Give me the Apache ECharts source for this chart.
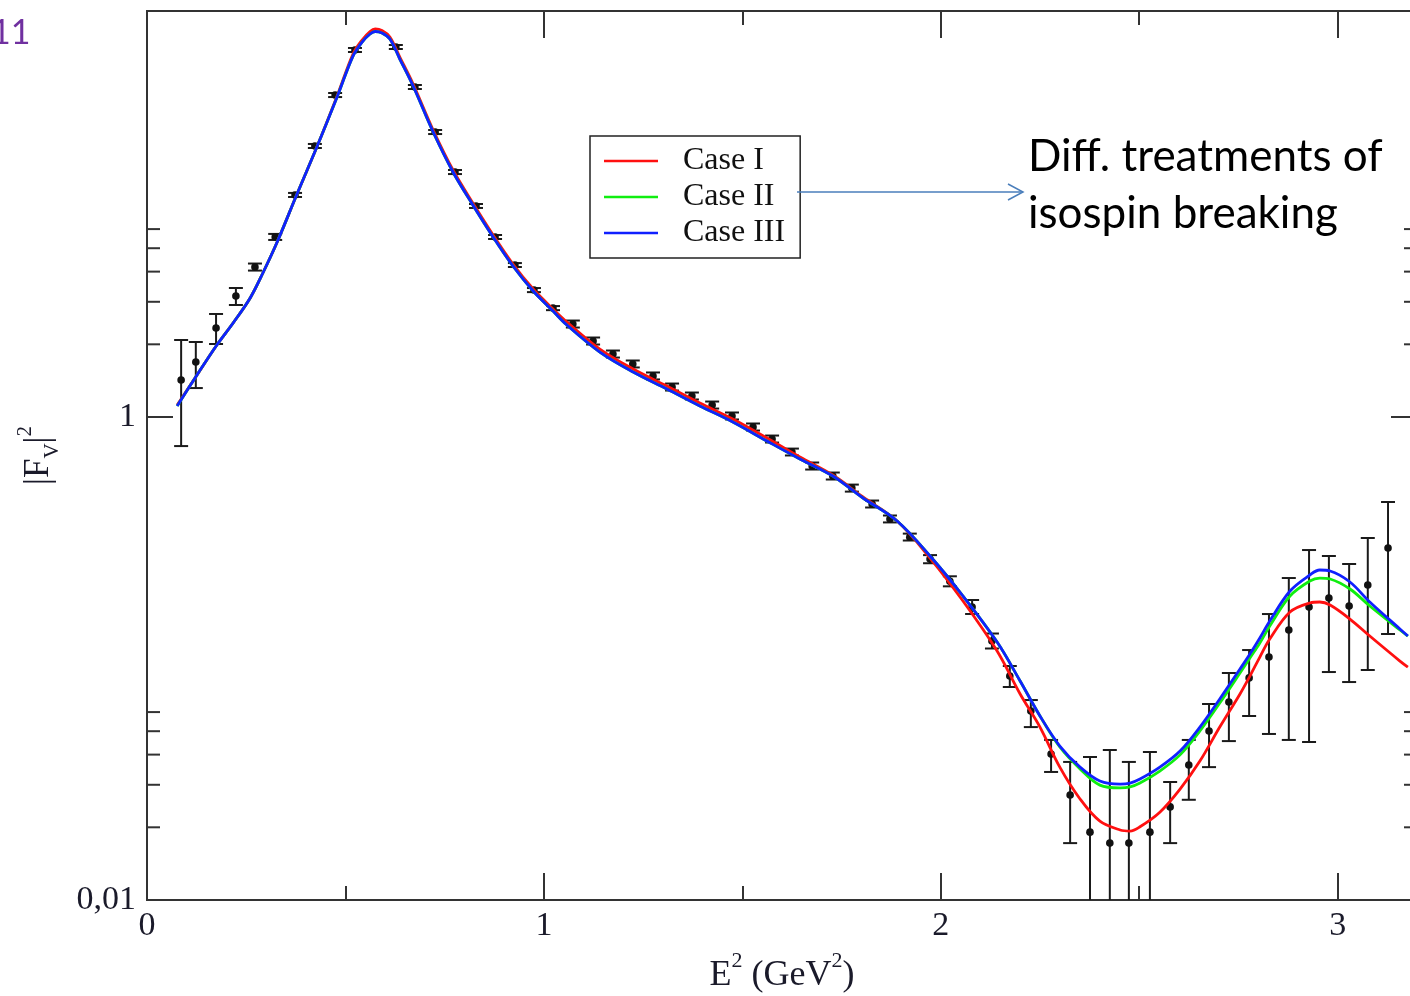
<!DOCTYPE html>
<html>
<head>
<meta charset="utf-8">
<script src="https://cdn.jsdelivr.net/npm/echarts@6/dist/echarts.min.js"></script>
<style>
  html, body { margin: 0; padding: 0; background: #ffffff; }
  #chart { width: 1410px; height: 996px; }
</style>
</head>
<body>
<div id="chart"></div>
<script>
// ---------- data ----------
const curveX = [0.076,0.126,0.176,0.217,0.26,0.292,0.328,0.378,0.428,0.479,0.519,0.542,0.562,0.575,0.592,0.612,0.637,0.67,0.721,0.771,0.821,0.872,0.922,0.973,1.023,1.058,1.141,1.225,1.31,1.393,1.476,1.562,1.645,1.728,1.804,1.89,1.973,2.056,2.142,2.2,2.25,2.3,2.351,2.401,2.452,2.477,2.502,2.552,2.603,2.653,2.703,2.754,2.779,2.804,2.829,2.88,2.93,2.955,2.981,3.031,3.081,3.157,3.177];

const caseI = [1.121,1.493,1.987,2.450,3.110,3.948,5.304,8.383,13.12,21.34,31.85,36.40,39.48,40.43,39.86,37.46,30.95,24.04,15.43,10.54,7.694,5.672,4.300,3.388,2.801,2.474,1.912,1.580,1.344,1.143,0.981,0.8185,0.6829,0.5751,0.4664,0.3710,0.2607,0.1730,0.1074,0.0713,0.0520,0.0355,0.0262,0.0212,0.0195,0.0193,0.0201,0.0231,0.0288,0.0376,0.0520,0.0713,0.0846,0.1014,0.1204,0.1558,0.1698,0.1714,0.1665,0.1457,0.1239,0.0976,0.0922];

const caseII = [1.111,1.493,1.987,2.450,3.110,3.948,5.304,8.383,13.12,21.14,31.24,35.71,38.54,39.48,38.92,36.75,30.37,23.59,15.14,10.34,7.549,5.565,4.220,3.325,2.748,2.404,1.858,1.536,1.306,1.111,0.9535,0.7954,0.6699,0.5697,0.4619,0.3710,0.2657,0.1815,0.1170,0.0807,0.0578,0.0430,0.0349,0.0299,0.0291,0.0294,0.0305,0.0342,0.0399,0.0501,0.0654,0.0871,0.1005,0.1159,0.1363,0.1815,0.2094,0.2154,0.2134,0.1940,0.1650,0.1312,0.1239];

const caseIII = [1.111,1.493,1.987,2.450,3.110,3.948,5.304,8.383,13.12,21.14,31.24,35.71,38.54,39.48,38.92,36.75,30.37,23.59,15.14,10.34,7.549,5.565,4.220,3.325,2.748,2.404,1.858,1.536,1.306,1.111,0.9535,0.7954,0.6699,0.5697,0.4619,0.3710,0.2657,0.1815,0.1170,0.0807,0.0578,0.0434,0.0355,0.0311,0.0302,0.0305,0.0317,0.0355,0.0414,0.0520,0.0680,0.0905,0.1044,0.1216,0.1430,0.1903,0.2217,0.2325,0.2303,0.2074,0.1714,0.1325,0.1239];

const dataX = [0.086,0.123,0.174,0.224,0.272,0.323,0.373,0.423,0.474,0.524,0.627,0.675,0.726,0.776,0.829,0.877,0.927,0.975,1.023,1.073,1.124,1.174,1.224,1.275,1.323,1.373,1.424,1.474,1.527,1.575,1.625,1.676,1.728,1.776,1.827,1.872,1.922,1.973,2.023,2.079,2.129,2.174,2.227,2.278,2.326,2.376,2.426,2.474,2.527,2.578,2.625,2.676,2.726,2.777,2.827,2.877,2.928,2.978,3.029,3.076,3.127];

const dataY = [1.423,1.690,2.336,3.170,4.179,5.565,8.305,13.25,21.54,33.10,34.05,23.25,15.14,10.34,7.478,5.565,4.260,3.357,2.828,2.427,2.064,1.823,1.658,1.479,1.331,1.222,1.121,1.010,0.909,0.811,0.716,0.627,0.570,0.508,0.436,0.378,0.318,0.258,0.209,0.1634,0.1181,0.0846,0.0606,0.0402,0.0272,0.0191,0.0172,0.0172,0.0191,0.0243,0.0362,0.0501,0.0661,0.0831,0.1014,0.1312,0.1634,0.1780,0.1650,0.2015,0.2868];

const errLo = [0.758,1.318,2.006,2.910,4.04,5.41,8.15,13.00,21.13,32.47,33.41,22.81,14.85,10.14,7.34,5.46,4.18,3.29,2.77,2.347,1.996,1.763,1.604,1.431,1.287,1.182,1.084,0.977,0.879,0.784,0.693,0.606,0.551,0.491,0.422,0.366,0.308,0.248,0.199,0.1529,0.1100,0.0762,0.0520,0.0339,0.0172,0.005,0.005,0.005,0.005,0.0172,0.0260,0.0355,0.0455,0.0578,0.0487,0.0460,0.0451,0.0879,0.0799,0.0896,0.1263];

const errHi = [2.084,2.045,2.671,3.421,4.32,5.73,8.47,13.51,21.96,33.74,34.71,23.70,15.43,10.54,7.62,5.67,4.34,3.42,2.88,2.509,2.134,1.885,1.714,1.529,1.376,1.263,1.159,1.044,0.940,0.838,0.740,0.648,0.589,0.525,0.451,0.391,0.329,0.268,0.219,0.1747,0.1269,0.0931,0.0673,0.0460,0.0373,0.0391,0.0418,0.0373,0.0410,0.0308,0.0460,0.0648,0.0871,0.1084,0.1528,0.2154,0.2813,0.2657,0.2462,0.3155,0.4446];

// y-axis tick positions (log axis): labelled major ticks and the 2..6 minor ticks
const yMajorTicks = [0.01, 1];
const yMinorTicks = [0.02,0.03,0.04,0.05,0.06,2,3,4,5,6];
const xTickLabels = ['0','1','2','3'];
const seriesNames = ['Case I','Case II','Case III'];

// ---------- chart ----------
const SERIF = '"Liberation Serif", "DejaVu Serif", serif';
const AX = '#333333';
const TXT = '#1a1a2a';

const chart = echarts.init(document.getElementById('chart'), null, {renderer: 'canvas'});

const pair = (xs, ys) => xs.map((x, i) => [x, ys[i]]);
const points = dataX.map((x, i) => [x, dataY[i], errLo[i], errHi[i]]);
const yTicks = yMajorTicks.map(v => [0, v, 26]).concat(yMinorTicks.map(v => [0, v, 13]));

const lineSeries = (name, ys, color) => ({
  name: name,
  type: 'line',
  data: pair(curveX, ys),
  showSymbol: false,
  symbol: 'none',
  smooth: 0.35,
  clip: true,
  lineStyle: {color: color, width: 2.8},
  itemStyle: {color: color},
  z: 5,
  animation: false
});

const option = {
  backgroundColor: '#ffffff',
  animation: false,
  grid: {left: 147, top: 11, bottom: 96, right: -7, containLabel: false, outerBoundsMode: 'none'},
  legend: {
    left: 590, top: 136,
    orient: 'vertical',
    data: seriesNames,
    icon: 'rect',
    itemWidth: 54, itemHeight: 2.6, itemGap: 4,
    padding: [9, 15, 9, 14],
    backgroundColor: '#ffffff',
    borderColor: '#222222', borderWidth: 1.5,
    textStyle: {fontFamily: SERIF, fontSize: 32, lineHeight: 32, color: '#111111', padding: [0, 0, 0, 20]},
    selectedMode: false
  },
  xAxis: [{
    type: 'value', position: 'bottom', min: 0, max: 3.2, interval: 1,
    axisLine: {show: true, lineStyle: {color: AX, width: 2}},
    axisTick: {show: true, inside: true, length: 27, lineStyle: {color: AX, width: 2}},
    minorTick: {show: true, splitNumber: 2, length: 14, lineStyle: {color: AX, width: 2}},
    splitLine: {show: false},
    axisLabel: {show: true, margin: 9, fontFamily: SERIF, fontSize: 34, color: TXT,
      formatter: v => { const i = Math.round(v); return Math.abs(v - i) < 1e-9 && xTickLabels[i] !== undefined ? xTickLabels[i] : ''; }},
    name: '{t|E}{p|2}{t| (GeV}{p|2}{t|)}',
    nameLocation: 'middle', nameGap: 50,
    nameTextStyle: {
      rich: {
        t: {fontFamily: SERIF, fontSize: 36, color: TXT, lineHeight: 44, verticalAlign: 'bottom'},
        p: {fontFamily: SERIF, fontSize: 22, color: TXT, lineHeight: 22, verticalAlign: 'top'}
      }
    }
  }, {
    type: 'value', position: 'top', min: 0, max: 3.2, interval: 1,
    axisLine: {show: true, lineStyle: {color: AX, width: 2}},
    axisTick: {show: true, inside: true, length: 27, lineStyle: {color: AX, width: 2}},
    minorTick: {show: true, splitNumber: 2, length: 14, lineStyle: {color: AX, width: 2}},
    splitLine: {show: false},
    axisLabel: {show: false}
  }],
  yAxis: [{
    type: 'log', logBase: 100, min: 0.01, max: 48, position: 'left',
    axisLine: {show: true, lineStyle: {color: AX, width: 2}},
    axisTick: {show: false},
    splitLine: {show: false},
    axisLabel: {show: true, margin: 11, fontFamily: SERIF, fontSize: 34, color: TXT, showMinLabel: true,
      formatter: v => (Math.abs(v - 0.01) < 1e-6 ? '0,01' : (Math.abs(v - 1) < 1e-6 ? '1' : ''))},
    name: '{t||F}{s|V}{t||}{p|2}',
    nameLocation: 'middle', nameRotate: 90, nameGap: 84,
    nameTextStyle: {
      rich: {
        t: {fontFamily: SERIF, fontSize: 35, color: TXT, lineHeight: 48, verticalAlign: 'middle'},
        s: {fontFamily: SERIF, fontSize: 21, color: TXT, lineHeight: 21, verticalAlign: 'bottom'},
        p: {fontFamily: SERIF, fontSize: 21, color: TXT, lineHeight: 21, verticalAlign: 'top'}
      }
    }
  }, {
    type: 'log', logBase: 100, min: 0.01, max: 48, position: 'right',
    axisLine: {show: true, lineStyle: {color: AX, width: 2}},
    axisTick: {show: false},
    splitLine: {show: false},
    axisLabel: {show: false}
  }],
  series: [
    {
      name: 'yTicks', type: 'custom', silent: true, clip: false, z: 3,
      data: yTicks,
      encode: {x: 0, y: 1},
      renderItem: (params, api) => {
        const p = api.coord([0, api.value(1)]);
        const len = api.value(2);
        const cs = params.coordSys;
        const st = {stroke: AX, lineWidth: 2};
        return {type: 'group', children: [
          {type: 'line', shape: {x1: cs.x, y1: p[1], x2: cs.x + len, y2: p[1]}, style: st},
          {type: 'line', shape: {x1: cs.x + cs.width - len, y1: p[1], x2: cs.x + cs.width, y2: p[1]}, style: st}
        ]};
      }
    },
    {
      name: 'data', type: 'custom', clip: true, z: 4,
      data: points,
      encode: {x: 0, y: 1},
      renderItem: (params, api) => {
        const x = api.value(0);
        const p = api.coord([x, api.value(1)]);
        const lo = api.coord([x, api.value(2)]);
        const hi = api.coord([x, api.value(3)]);
        const w = 7;
        const st = {stroke: '#1a1a1a', lineWidth: 2};
        return {type: 'group', children: [
          {type: 'line', shape: {x1: p[0], y1: hi[1], x2: p[0], y2: lo[1]}, style: st},
          {type: 'line', shape: {x1: p[0] - w, y1: hi[1], x2: p[0] + w, y2: hi[1]}, style: st},
          {type: 'line', shape: {x1: p[0] - w, y1: lo[1], x2: p[0] + w, y2: lo[1]}, style: st},
          {type: 'circle', shape: {cx: p[0], cy: p[1], r: 3.8}, style: {fill: '#111111'}}
        ]};
      }
    },
    lineSeries('Case I', caseI, '#ff1010'),
    lineSeries('Case II', caseII, '#10ee10'),
    lineSeries('Case III', caseIII, '#1020ff')
  ],
  graphic: [
    {type: 'text', x: -9, y: 16, z: 10,
      style: {text: '11', fontFamily: 'Lato, "Open Sans", sans-serif', fontSize: 34, fill: '#7030a0', textAlign: 'left', textVerticalAlign: 'top'}},
    {type: 'text', x: 1028, y: 128, z: 10,
      style: {text: 'Diff. treatments of\nisospin breaking', fontFamily: 'Lato, "Open Sans", sans-serif', fontSize: 44, lineHeight: 57, fill: '#000000', textVerticalAlign: 'top'}},
    {type: 'line', z: 10, shape: {x1: 797, y1: 192, x2: 1023, y2: 192}, style: {stroke: '#4a7ebb', lineWidth: 1.5}},
    {type: 'polyline', z: 10, shape: {points: [[1008, 184], [1023, 192], [1008, 200]]}, style: {stroke: '#4a7ebb', lineWidth: 1.5, fill: null}}
  ]
};

chart.setOption(option);
</script>
</body>
</html>
